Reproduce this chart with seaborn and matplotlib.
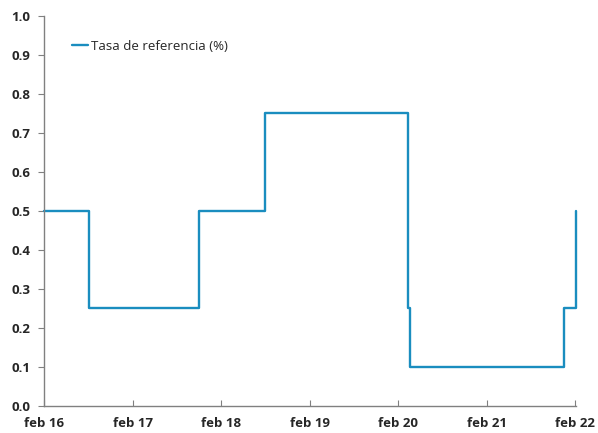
import pandas as pd
import matplotlib.pyplot as plt
import seaborn as sns

# Tasa de referencia (%) - fechas de cambio
fechas = ['2016-02-01', '2016-08-04', '2017-11-02', '2018-08-02',
          '2020-03-11', '2020-03-19', '2021-12-16', '2022-02-03']
tasas = [0.5, 0.25, 0.5, 0.75, 0.25, 0.1, 0.25, 0.5]
etiquetas_x = ['feb 16', 'feb 17', 'feb 18', 'feb 19', 'feb 20', 'feb 21', 'feb 22']

df = pd.DataFrame({'fecha': pd.to_datetime(fechas), 'tasa': tasas})

sns.set_style('white')
plt.rcParams['font.family'] = ['Open Sans', 'DejaVu Sans']

fig, ax = plt.subplots(figsize=(5.98, 4.33), dpi=100)
fig.subplots_adjust(left=0.074, right=0.963, bottom=0.063, top=0.963)

sns.lineplot(data=df, x='fecha', y='tasa', ax=ax, drawstyle='steps-post',
             color='#1A8DBF', linewidth=1.7, label='Tasa de referencia (%)')
for ln in ax.lines:
    ln.set_clip_on(False)

ax.set_xlim(pd.Timestamp('2016-02-01'), pd.Timestamp('2022-02-03'))
ax.set_ylim(0, 1.0)
ticks_x = pd.to_datetime([f'{a}-02-01' for a in range(2016, 2023)])
ax.set_xticks(ticks_x)
ax.set_xticklabels(etiquetas_x, fontsize=9.5, fontweight='bold')
ax.set_yticks([i / 10 for i in range(11)])
ax.set_yticklabels([f'{i / 10:.1f}' for i in range(11)], fontsize=9.5, fontweight='bold')
ax.set_xlabel('')
ax.set_ylabel('')

for s in ['top', 'right']:
    ax.spines[s].set_visible(False)
for s in ['left', 'bottom']:
    ax.spines[s].set_color('#808080')
    ax.spines[s].set_linewidth(1)

ax.tick_params(axis='y', direction='out', length=4, color='#808080', left=True, pad=6)
ax.tick_params(axis='x', direction='in', length=4, color='#808080', bottom=True, pad=8)

ax.legend(loc='upper left', bbox_to_anchor=(0.03, 0.97), frameon=False,
          fontsize=9.5, handlelength=1.2, handletextpad=0.2)

fig.savefig('out.png', dpi=100)
